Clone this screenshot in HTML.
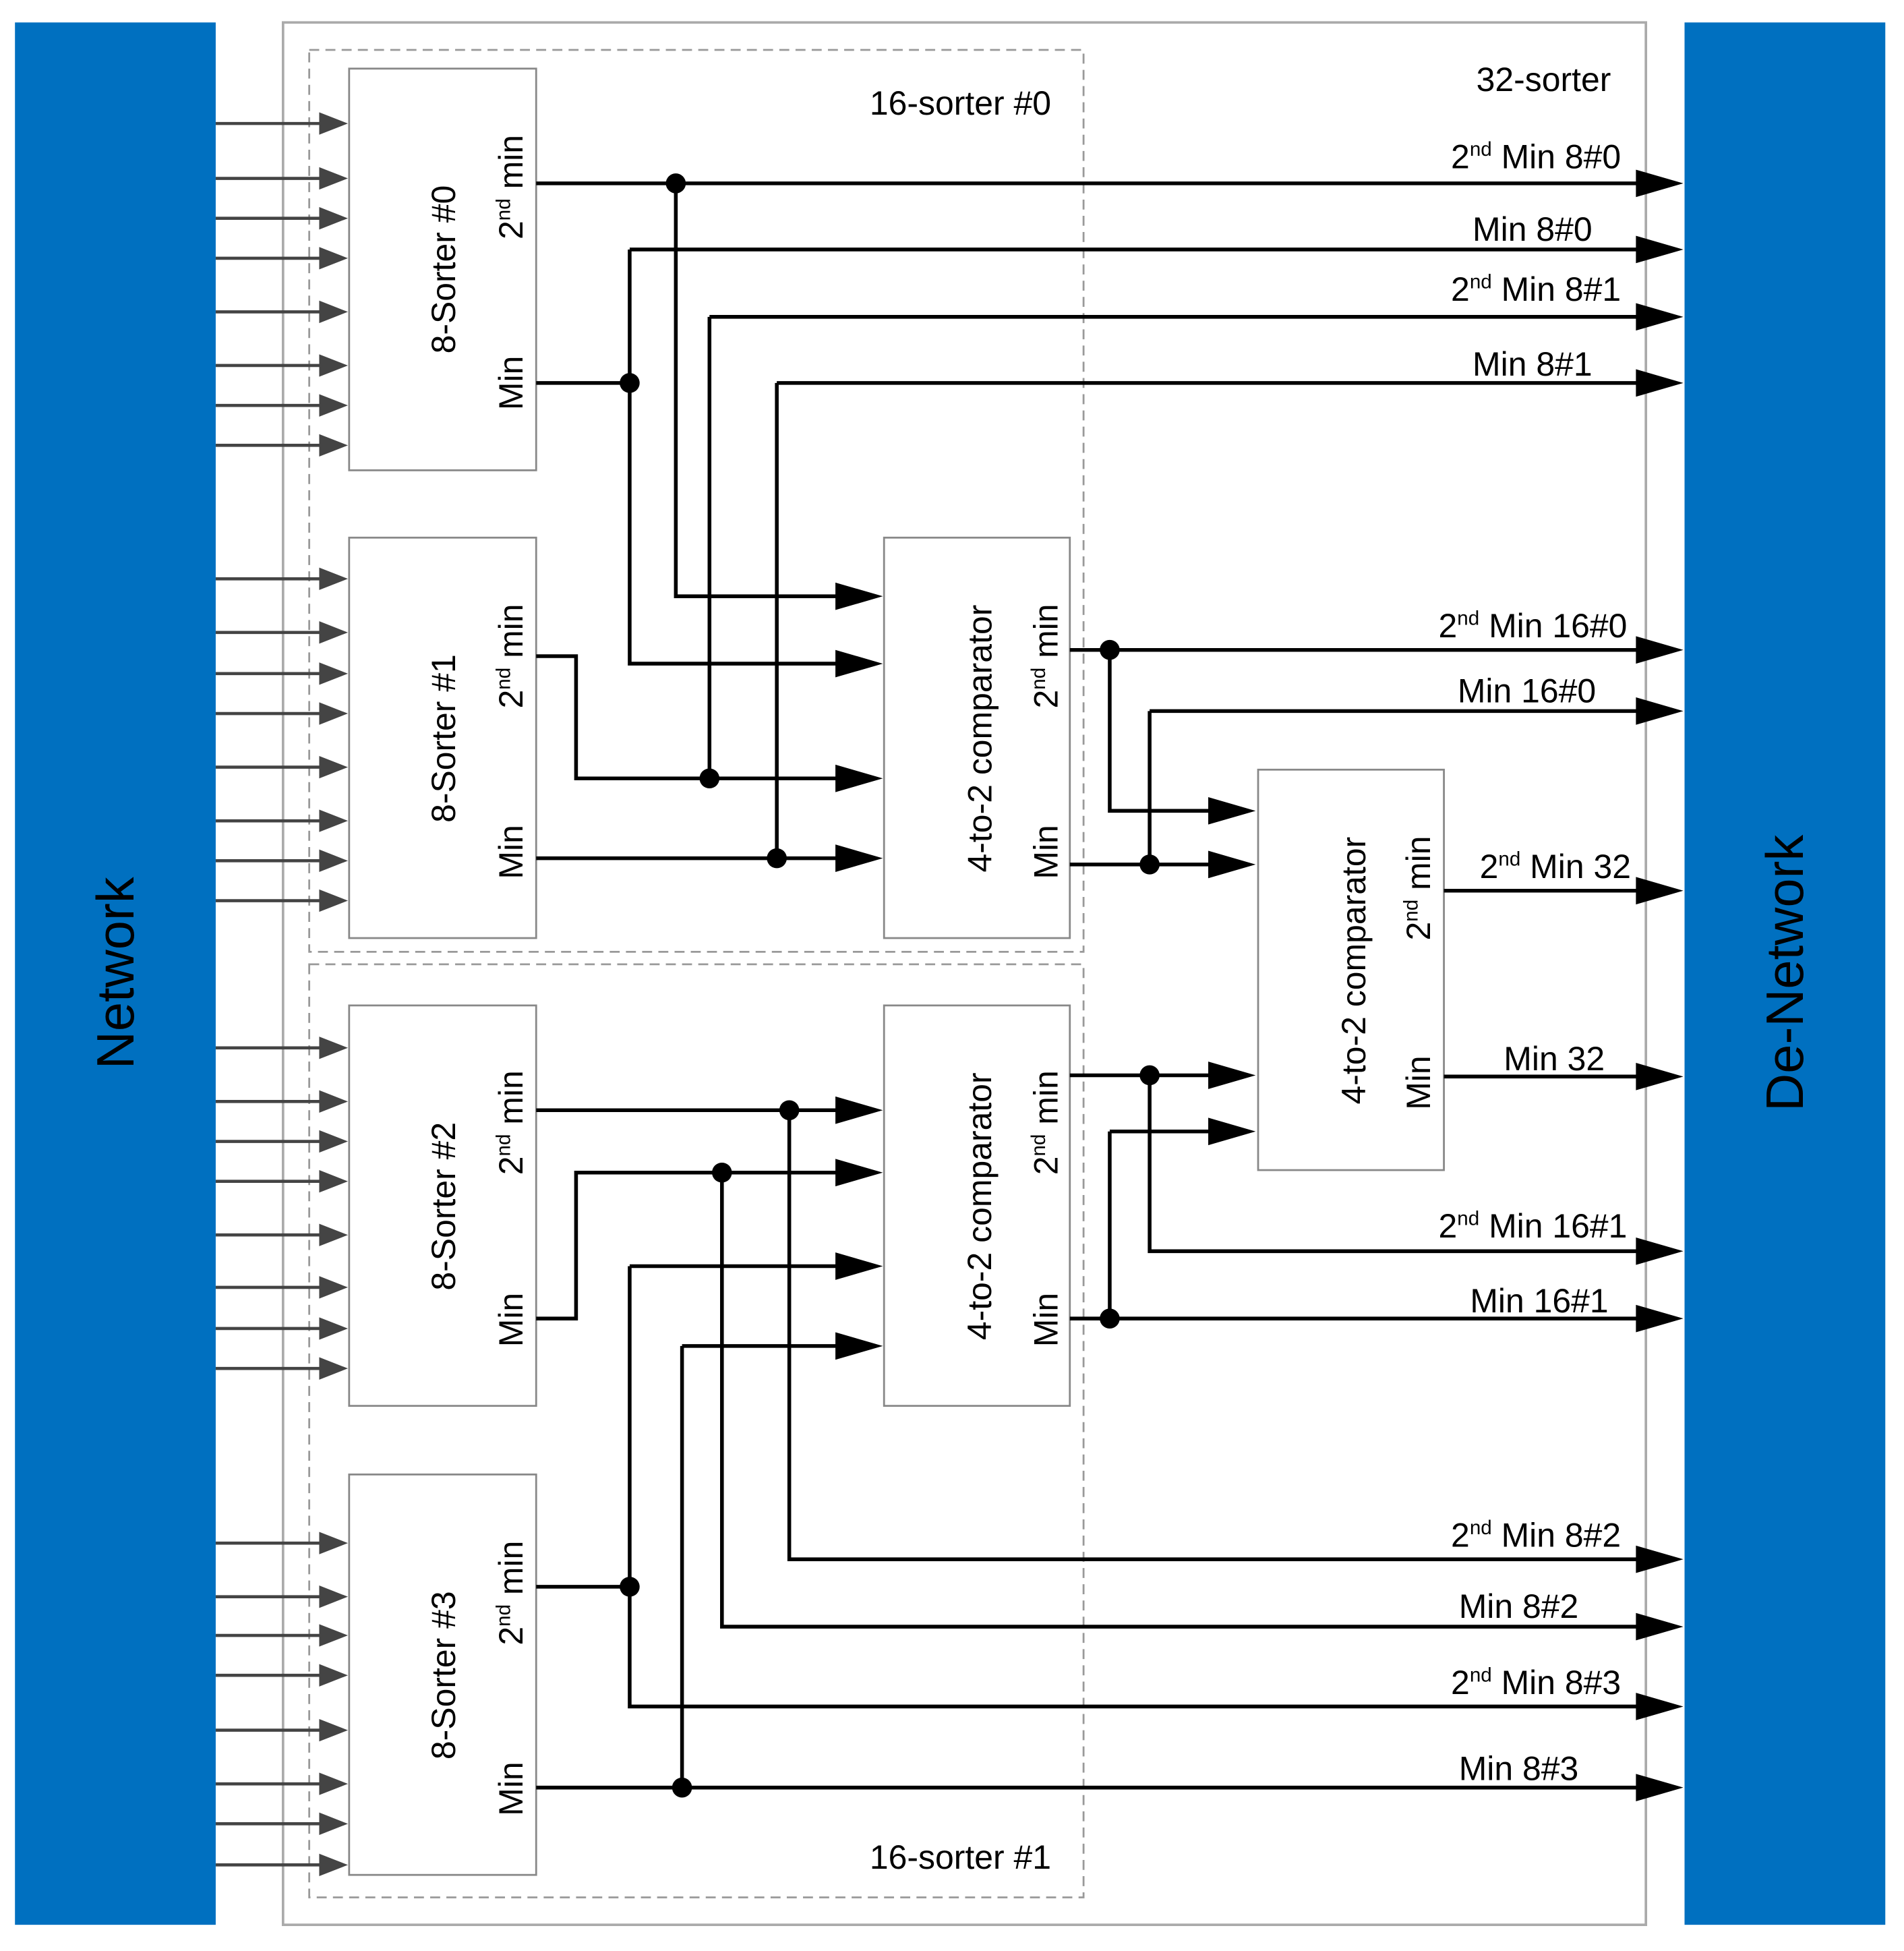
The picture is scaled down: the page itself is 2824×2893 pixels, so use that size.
<!DOCTYPE html>
<html><head><meta charset="utf-8"><style>html,body{margin:0;padding:0;background:#fff}svg{display:block}</style></head>
<body>
<svg width="2824" height="2893" viewBox="0 0 1527 1564" preserveAspectRatio="none" xmlns="http://www.w3.org/2000/svg" font-family="Liberation Sans, sans-serif">
<rect x="12" y="18" width="161" height="1525" fill="#0070c0"/>
<rect x="1351" y="18" width="161" height="1525" fill="#0070c0"/>
<text x="107" y="780" font-size="42" text-anchor="middle" transform="rotate(-90 107 780)" fill="#000">Network</text>
<text x="1446" y="780" font-size="42" text-anchor="middle" transform="rotate(-90 1446 780)" fill="#000">De-Network</text>
<rect x="227" y="18" width="1093" height="1525" fill="none" stroke="#aaa" stroke-width="2"/>
<rect x="248" y="40" width="621" height="723" fill="none" stroke="#999" stroke-width="1.5" stroke-dasharray="8,5"/>
<rect x="248" y="773" width="621" height="748" fill="none" stroke="#999" stroke-width="1.5" stroke-dasharray="8,5"/>
<g fill="#fff" stroke="#888" stroke-width="1.5">
<rect x="280" y="55" width="150" height="322"/><rect x="280" y="431" width="150" height="321"/>
<rect x="280" y="806" width="150" height="321"/><rect x="280" y="1182" width="150" height="321"/>
<rect x="709" y="431" width="149" height="321"/><rect x="709" y="806" width="149" height="321"/>
<rect x="1009" y="617" width="149" height="321"/>
</g>
<g stroke="#444" stroke-width="2.5" fill="#444">
<path d="M173 99H260M173 143H260M173 175H260M173 207H260M173 250H260M173 293H260M173 325H260M173 357H260
M173 464H260M173 507H260M173 540H260M173 572H260M173 615H260M173 658H260M173 690H260M173 722H260
M173 840H260M173 883H260M173 915H260M173 947H260M173 990H260M173 1032H260M173 1065H260M173 1097H260
M173 1237H260M173 1280H260M173 1311H260M173 1343H260M173 1387H260M173 1430H260M173 1462H260M173 1495H260"/>
</g>
<g fill="#444">
<path d="M256 90L279 99L256 108ZM256 134L279 143L256 152ZM256 166L279 175L256 184ZM256 198L279 207L256 216ZM256 241L279 250L256 259ZM256 284L279 293L256 302ZM256 316L279 325L256 334ZM256 348L279 357L256 366Z"/>
<path d="M256 455L279 464L256 473ZM256 498L279 507L256 516ZM256 531L279 540L256 549ZM256 563L279 572L256 581ZM256 606L279 615L256 624ZM256 649L279 658L256 667ZM256 681L279 690L256 699ZM256 713L279 722L256 731Z"/>
<path d="M256 831L279 840L256 849ZM256 874L279 883L256 892ZM256 906L279 915L256 924ZM256 938L279 947L256 956ZM256 981L279 990L256 999ZM256 1023L279 1032L256 1041ZM256 1056L279 1065L256 1074ZM256 1088L279 1097L256 1106Z"/>
<path d="M256 1228L279 1237L256 1246ZM256 1271L279 1280L256 1289ZM256 1302L279 1311L256 1320ZM256 1334L279 1343L256 1352ZM256 1378L279 1387L256 1396ZM256 1421L279 1430L256 1439ZM256 1453L279 1462L256 1471ZM256 1486L279 1495L256 1504Z"/>
</g>
<g stroke="#000" stroke-width="3" fill="none">
<path d="M430 147H1320M542 147V478H680"/>
<path d="M430 307H505M505 200V532H680M505 200H1320"/>
<path d="M430 526H462V624H680M569 254V624M569 254H1320"/>
<path d="M430 688H680M623 307V688M623 307H1320"/>
<path d="M858 521H1320M890 521V650H980"/>
<path d="M858 693H980M922 570V693M922 570H1320"/>
<path d="M1158 714H1320M1158 863H1320"/>
<path d="M430 890H680M633 890V1250H1320"/>
<path d="M430 1057H462V940H680M579 940V1304H1320"/>
<path d="M430 1272H505M505 1015V1368H1320M505 1015H680"/>
<path d="M430 1433H1320M547 1079V1433M547 1079H680"/>
<path d="M858 862H980M922 862V1003H1320"/>
<path d="M858 1057H1320M890 907V1057M890 907H980"/>
</g>
<g fill="#000">
<path d="M1312 136L1350 147L1312 158ZM1312 189L1350 200L1312 211ZM1312 243L1350 254L1312 265ZM1312 296L1350 307L1312 318Z"/>
<path d="M1312 510L1350 521L1312 532ZM1312 559L1350 570L1312 581ZM1312 703L1350 714L1312 725ZM1312 852L1350 863L1312 874Z"/>
<path d="M1312 992L1350 1003L1312 1014ZM1312 1046L1350 1057L1312 1068ZM1312 1239L1350 1250L1312 1261ZM1312 1293L1350 1304L1312 1315ZM1312 1357L1350 1368L1312 1379ZM1312 1422L1350 1433L1312 1444Z"/>
<path d="M670 467L708 478L670 489ZM670 521L708 532L670 543ZM670 613L708 624L670 635ZM670 677L708 688L670 699Z"/>
<path d="M670 879L708 890L670 901ZM670 929L708 940L670 951ZM670 1004L708 1015L670 1026ZM670 1068L708 1079L670 1090Z"/>
<path d="M969 639L1007 650L969 661ZM969 682L1007 693L969 704ZM969 851L1007 862L969 873ZM969 896L1007 907L969 918Z"/>
<circle cx="542" cy="147" r="8"/><circle cx="505" cy="307" r="8"/><circle cx="569" cy="624" r="8"/><circle cx="623" cy="688" r="8"/>
<circle cx="890" cy="521" r="8"/><circle cx="922" cy="693" r="8"/><circle cx="633" cy="890" r="8"/><circle cx="579" cy="940" r="8"/>
<circle cx="505" cy="1272" r="8"/><circle cx="547" cy="1433" r="8"/><circle cx="922" cy="862" r="8"/><circle cx="890" cy="1057" r="8"/>
</g>
<g font-size="27" fill="#000" text-anchor="middle">
<text x="365" y="216" transform="rotate(-90 365 216)">8-Sorter #0</text>
<text x="365" y="592" transform="rotate(-90 365 592)">8-Sorter #1</text>
<text x="365" y="967" transform="rotate(-90 365 967)">8-Sorter #2</text>
<text x="365" y="1343" transform="rotate(-90 365 1343)">8-Sorter #3</text>
<text x="419" y="150" transform="rotate(-90 419 150)">2<tspan font-size="16" dy="-10">nd</tspan><tspan dy="10"> min</tspan></text>
<text x="419" y="526" transform="rotate(-90 419 526)">2<tspan font-size="16" dy="-10">nd</tspan><tspan dy="10"> min</tspan></text>
<text x="419" y="900" transform="rotate(-90 419 900)">2<tspan font-size="16" dy="-10">nd</tspan><tspan dy="10"> min</tspan></text>
<text x="419" y="1277" transform="rotate(-90 419 1277)">2<tspan font-size="16" dy="-10">nd</tspan><tspan dy="10"> min</tspan></text>
<text x="419" y="307" transform="rotate(-90 419 307)">Min</text>
<text x="419" y="683" transform="rotate(-90 419 683)">Min</text>
<text x="419" y="1058" transform="rotate(-90 419 1058)">Min</text>
<text x="419" y="1434" transform="rotate(-90 419 1434)">Min</text>
<text x="795" y="592" transform="rotate(-90 795 592)">4-to-2 comparator</text>
<text x="795" y="967" transform="rotate(-90 795 967)">4-to-2 comparator</text>
<text x="1095" y="778" transform="rotate(-90 1095 778)">4-to-2 comparator</text>
<text x="848" y="526" transform="rotate(-90 848 526)">2<tspan font-size="16" dy="-10">nd</tspan><tspan dy="10"> min</tspan></text>
<text x="848" y="900" transform="rotate(-90 848 900)">2<tspan font-size="16" dy="-10">nd</tspan><tspan dy="10"> min</tspan></text>
<text x="1147" y="712" transform="rotate(-90 1147 712)">2<tspan font-size="16" dy="-10">nd</tspan><tspan dy="10"> min</tspan></text>
<text x="848" y="683" transform="rotate(-90 848 683)">Min</text>
<text x="848" y="1058" transform="rotate(-90 848 1058)">Min</text>
<text x="1147" y="868" transform="rotate(-90 1147 868)">Min</text>
</g>
<g font-size="27" fill="#000" text-anchor="end">
<text x="1292" y="73">32-sorter</text>
<text x="843" y="92">16-sorter #0</text>
<text x="843" y="1498">16-sorter #1</text>
<text x="1300" y="135">2<tspan font-size="16" dy="-10">nd</tspan><tspan dy="10"> Min 8#0</tspan></text>
<text x="1277" y="193">Min 8#0</text>
<text x="1300" y="241">2<tspan font-size="16" dy="-10">nd</tspan><tspan dy="10"> Min 8#1</tspan></text>
<text x="1277" y="301">Min 8#1</text>
<text x="1305" y="511">2<tspan font-size="16" dy="-10">nd</tspan><tspan dy="10"> Min 16#0</tspan></text>
<text x="1280" y="563">Min 16#0</text>
<text x="1308" y="704">2<tspan font-size="16" dy="-10">nd</tspan><tspan dy="10"> Min 32</tspan></text>
<text x="1287" y="858">Min 32</text>
<text x="1305" y="992">2<tspan font-size="16" dy="-10">nd</tspan><tspan dy="10"> Min 16#1</tspan></text>
<text x="1290" y="1052">Min 16#1</text>
<text x="1300" y="1240">2<tspan font-size="16" dy="-10">nd</tspan><tspan dy="10"> Min 8#2</tspan></text>
<text x="1266" y="1297">Min 8#2</text>
<text x="1300" y="1358">2<tspan font-size="16" dy="-10">nd</tspan><tspan dy="10"> Min 8#3</tspan></text>
<text x="1266" y="1427">Min 8#3</text>
</g>
</svg>
</body></html>
